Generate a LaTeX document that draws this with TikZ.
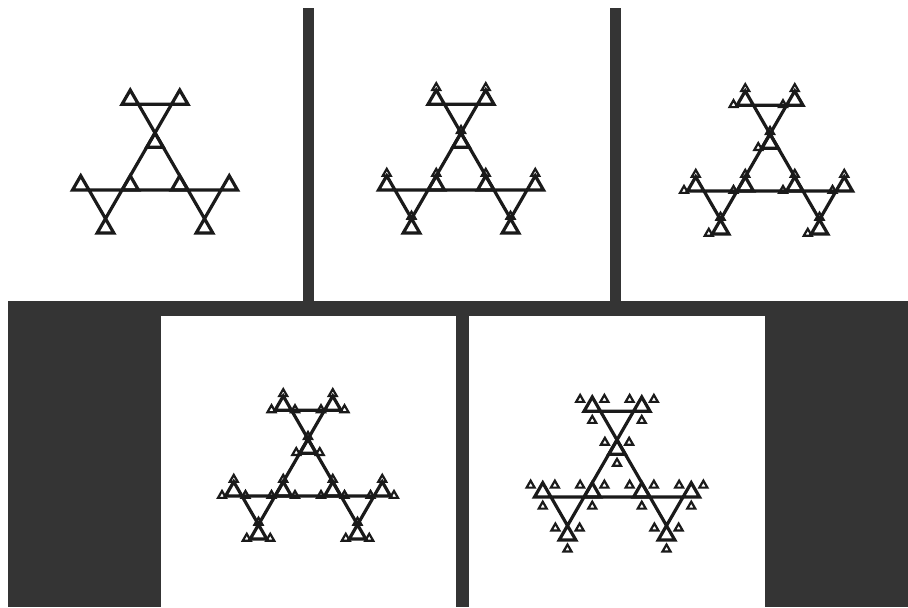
\documentclass[tikz,border=0pt]{standalone}
\usepackage{tikz}
\usetikzlibrary{calc}
\definecolor{frame}{RGB}{52,52,52}
\definecolor{ink}{RGB}{26,26,26}

\tikzset{
  seg/.style={draw=ink, line width=1.6pt},
  dot/.style={draw=ink, line width=1.1pt}
}

% 等边三角形: 中心 x, y, 边长, 顶点方向
\newcommand{\drawtri}[5][seg]{%
  \draw[#1, shift={({#2},{#3})}] (#5:{#4/sqrt(3)}) -- (#5+120:{#4/sqrt(3)})
    -- (#5+240:{#4/sqrt(3)}) -- cycle;}

% 主体: 大三角形, 三个反向三角形, 九个小三角形
\newcommand{\fractal}[2]{%
  \drawtri{#1}{#2}{66}{-90}
  \foreach \k in {-90,30,150}{
    \pgfmathsetmacro{\px}{#1+57.16*cos(\k)}
    \pgfmathsetmacro{\py}{#2+57.16*sin(\k)}
    \drawtri{\px}{\py}{33}{90}
    \foreach \j in {90,210,330}{
      \pgfmathsetmacro{\qx}{\px+28.58*cos(\j)}
      \pgfmathsetmacro{\qy}{\py+28.58*sin(\j)}
      \drawtri{\qx}{\qy}{16.5}{-90}
    }
  }}

% 小三角形旁的微小三角形 (方向/距离)
\newcommand{\specks}[3]{%
  \foreach \k in {-90,30,150}{
    \pgfmathsetmacro{\px}{#1+57.16*cos(\k)}
    \pgfmathsetmacro{\py}{#2+57.16*sin(\k)}
    \foreach \j in {90,210,330}{
      \pgfmathsetmacro{\qx}{\px+28.58*cos(\j)}
      \pgfmathsetmacro{\qy}{\py+28.58*sin(\j)}
      \foreach \m/\d in {#3}{
        \pgfmathsetmacro{\rx}{\qx+\d*cos(\m)}
        \pgfmathsetmacro{\ry}{\qy+\d*sin(\m)}
        \drawtri[dot]{\rx}{\ry}{8}{-90}
      }
    }
  }}

\begin{document}
\begin{tikzpicture}[x=0.5pt, y=-0.5pt]
    % 背景与边框
    \useasboundingbox (0,0) rectangle (908,607);
    \fill[white] (0,0) rectangle (908,607);
    \fill[frame] (303,8) rectangle (314,301);
    \fill[frame] (610,8) rectangle (621,301);
    \fill[frame] (8,301) rectangle (908,607);
    \fill[white] (161,316) rectangle (456,607);
    \fill[white] (469,316) rectangle (765,607);

    % 上排
    \fractal{155}{171}
    \fractal{461}{171}
    \specks{461}{171}{-90/11.8}
    \fractal{770}{172}
    \specks{770}{172}{-90/11.8, 160/12.5}

    % 下排
    \fractal{308}{477}
    \specks{308}{477}{-90/11.8, 160/12.5, 20/12.5}
    \fractal{617}{478}
    \specks{617}{478}{90/14, 210/14, 330/14}
\end{tikzpicture}
\end{document}
